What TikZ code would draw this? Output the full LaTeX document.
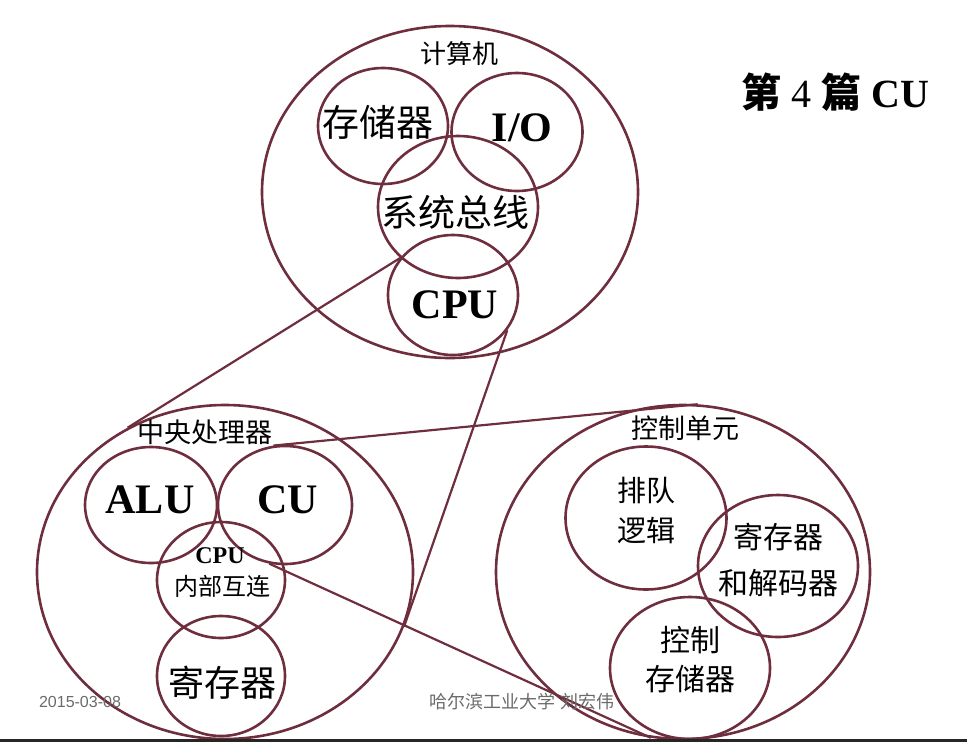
\documentclass[tikz,border=0pt]{standalone}
\usepackage{fontspec}
\setmainfont{Liberation Serif}
\setsansfont{Liberation Sans}
\newfontfamily\cjk{Noto Sans CJK SC}
\usepackage{tikz}
\usetikzlibrary{shapes.geometric}
\definecolor{hitmaroon}{HTML}{6F2E3E}
\definecolor{hitgrey}{HTML}{6A6A6A}
\newcommand{\fsz}[1]{\fontsize{#1}{#1}\selectfont}

\begin{document}
\begin{tikzpicture}[x=1pt,y=-1pt,
  ring/.style={draw=hitmaroon,line width=2.6pt,ellipse,inner sep=0pt},
  zoomline/.style={draw=hitmaroon,line width=2.2pt},
  cn/.style={inner sep=0pt,align=center,font=\cjk\fsz{#1}},
  en/.style={inner sep=0pt,font=\bfseries\fsz{#1}}]
  \useasboundingbox (0,0) rectangle (967,742);
  % computer
  \node[ring,minimum width=376pt,minimum height=332pt] (comp) at (450,192) {};
  \node[ring,minimum width=130pt,minimum height=116pt] (mem) at (383,126) {};
  \node[ring,minimum width=131pt,minimum height=118pt] (io) at (517,132) {};
  \node[ring,minimum width=160pt,minimum height=142pt] (bus) at (458,207) {};
  \node[ring,minimum width=130pt,minimum height=120pt] (cpuA) at (453,295) {};
  \node[cn=26] (compT) at (459,54) {计算机};
  \node[cn=37] (memT) at (378,122) {存储器};
  \node[en=42] (ioT) at (522,128) {I/O};
  \node[cn=37] (busT) at (455,212) {系统总线};
  \node[en=42] (cpuAT) at (455,305) {CPU};
  % title
  \node[inner sep=0pt,font=\fsz{40}] (title) at (835,92) {{\cjk\bfseries 第}~4~{\cjk\bfseries 篇}~\textbf{CU}};
  % central processor
  \node[ring,minimum width=376pt,minimum height=334pt] (cpu) at (225,572) {};
  \node[ring,minimum width=132pt,minimum height=116pt] (alu) at (151,505) {};
  \node[ring,minimum width=134pt,minimum height=118pt] (cu) at (285,505) {};
  \node[ring,minimum width=128pt,minimum height=116pt] (link) at (221,580) {};
  \node[ring,minimum width=128pt,minimum height=120pt] (reg) at (221,676) {};
  \node[cn=27] (cpuT) at (205,432) {中央处理器};
  \node[en=42] (aluT) at (150,500) {ALU};
  \node[en=42] (cuT) at (288,500) {CU};
  \node[en=24] (linkA) at (220,556) {CPU};
  \node[cn=24] (linkB) at (222,586) {内部互连};
  \node[cn=36] (regT) at (222,683) {寄存器};
  % control unit
  \node[ring,minimum width=374pt,minimum height=334pt] (ctrl) at (683,572) {};
  \node[ring,minimum width=161pt,minimum height=143pt] (queue) at (646,518) {};
  \node[ring,minimum width=160pt,minimum height=142pt] (dec) at (778,566) {};
  \node[ring,minimum width=160pt,minimum height=142pt] (cstore) at (690,668) {};
  \node[cn=27] (ctrlT) at (685,428) {控制单元};
  \node[cn=29] (queueA) at (646,491) {排队};
  \node[cn=29] (queueB) at (646,530) {逻辑};
  \node[cn=30] (decA) at (778,537) {寄存器};
  \node[cn=30] (decB) at (778,583) {和解码器};
  \node[cn=30] (cstoreA) at (690,640) {控制};
  \node[cn=30] (cstoreB) at (690,679) {存储器};
  % zoom lines
  \draw[zoomline] (cpuA.145) -- (cpu.124);
  \draw[zoomline] (cpuA.-33) -- (cpu.-17);
  \draw[zoomline] (cu.101) -- (ctrl.85);
  \draw[zoomline] (cu.-105) -- (ctrl.-101);
  % footer
  \node[inner sep=0pt,text=hitgrey,font=\sffamily\fsz{16}] (date) at (80,702) {2015-03-08};
  \node[inner sep=0pt,text=hitgrey,font=\cjk\fsz{18}] (author) at (522,702) {哈尔滨工业大学~刘宏伟};
  \fill[black!85] (0,739) rectangle (967,742);
\end{tikzpicture}
\end{document}
